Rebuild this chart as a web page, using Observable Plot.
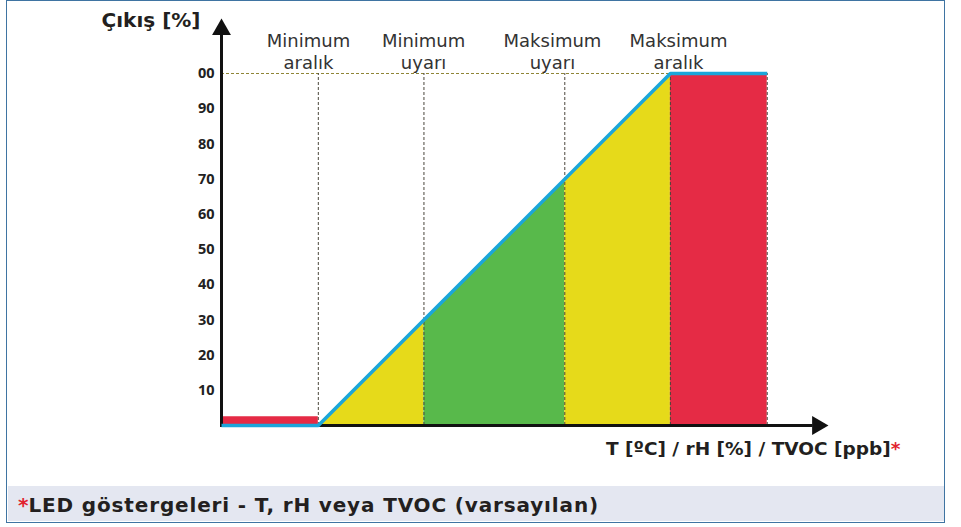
<!DOCTYPE html>
<html>
<head>
<meta charset="utf-8">
<script src="https://cdn.jsdelivr.net/npm/d3@7"></script>
<script src="https://cdn.jsdelivr.net/npm/@observablehq/plot@0.6"></script>
<style>
  html, body { margin: 0; padding: 0; background: #fff; width: 961px; height: 527px; overflow: hidden; }
  #chart { position: absolute; left: 0; top: 0; }
  #frame { position: absolute; left: 6px; top: 0px; width: 937px; height: 521px; border: 1.5px solid #3f74a2; pointer-events: none; }
  #footer { position: absolute; left: 7.5px; top: 486px; width: 937px; height: 35px; background: #e4e7f1;
            font-family: "DejaVu Sans", sans-serif; font-weight: bold; font-size: 20px; letter-spacing: 0.85px; color: #231f20; }
  #footer span.txt { position: absolute; left: 10.5px; top: 6.5px; white-space: nowrap; }
  #footer span.star { color: #e1232f; letter-spacing: 0; }
  g[aria-label="y-title"] text { letter-spacing: 1.2px; }
  g[aria-label="x-title"] text { letter-spacing: 0.95px; }
</style>
</head>
<body>
<div id="chart"></div>
<div id="footer"><span class="txt"><span class="star">*</span><span id="foottext"></span></span></div>
<div id="frame"></div>
<script>
// ---- data ----
const yTicks = [10, 20, 30, 40, 50, 60, 70, 80, 90, 100];
const yTickText = ["10", "20", "30", "40", "50", "60", "70", "80", "90", "00"];
const zoneStart    = [0, 27.5, 57.5, 97.5, 127.5];
const zoneEnd      = [27.5, 57.5, 97.5, 127.5, 155];
const zoneTopStart = [2.5, 0, 30, 70, 100];
const zoneTopEnd   = [2.5, 30, 70, 100, 100];
const zoneFill     = ["#e52b45", "#e6da1a", "#58b94b", "#e6da1a", "#e52b45"];
const boundaryX = [27.5, 57.5, 97.5, 127.5, 155];
const outputX = [0, 27.5, 127.5, 155];
const outputY = [0, 0, 100, 100];
const zoneLabels = ["Minimum\naralık", "Minimum\nuyarı", "Maksimum\nuyarı", "Maksimum\naralık"];
const zoneLabelX = [24.7, 57.4, 94.0, 129.8];
const yTitle = "Çıkış [%]";
const xTitle = "T [ºC] / rH [%] / TVOC [ppb]";
const footnote = "LED göstergeleri - T, rH veya TVOC (varsayılan)";
const xDomain = [0, 172.4];
const yDomain = [0, 100];

// ---- build ----
const areas = zoneStart.map((x0, i) =>
  Plot.areaY(
    [{x: x0, y: zoneTopStart[i]}, {x: zoneEnd[i], y: zoneTopEnd[i]}],
    {x: "x", y: "y", fill: zoneFill[i]}
  )
);
const outputLine = outputX.map((x, i) => ({x, y: outputY[i]}));

const chart = Plot.plot({
  width: 961,
  height: 486,
  marginLeft: 221, marginRight: 133, marginTop: 73, marginBottom: 61,
  x: {domain: xDomain, range: [221, 828], axis: null},
  y: {domain: yDomain, range: [425, 73]},
  style: {fontFamily: "DejaVu Sans", background: "transparent", overflow: "visible"},
  marks: [
    ...areas,
    Plot.ruleY([100], {x1: 0, x2: 127.5, stroke: "#8f8536", strokeDasharray: "3,2", strokeWidth: 1}),
    Plot.ruleX(boundaryX, {y1: 0, y2: 100, stroke: "#4a463c", strokeDasharray: "3,2", strokeWidth: 1}),
    Plot.ruleX([0], {y1: -0.6, y2: 111.5, stroke: "#111", strokeWidth: 3}),
    Plot.ruleY([0], {x1: 0, x2: 168, stroke: "#111", strokeWidth: 3}),
    Plot.dot([0], {x: 0, y: 112.5, symbol: "triangle", r: 7, fill: "#111"}),
    Plot.dot([0], {x: 169.3, y: 0, symbol: "triangle", r: 7, rotate: 90, fill: "#111"}),
    Plot.line(outputLine, {x: "x", y: "y", stroke: "#1ba6da", strokeWidth: 3.5, strokeLinejoin: "miter", strokeLinecap: "butt"}),
    Plot.axisY(yTicks, {
      tickFormat: d => yTickText[yTicks.indexOf(d)],
      tickSize: 0, tickPadding: 7, label: null,
      fontSize: 14.5, fontWeight: "bold", fontFamily: "Open Sans", fill: "#222"
    }),
    Plot.text(zoneLabels, {
      x: (d, i) => zoneLabelX[i], y: 101.42, text: d => d,
      lineAnchor: "bottom", lineHeight: 1.22, fontSize: 18, fill: "#333"
    }),
    Plot.text([yTitle], {
      x: -5.97, y: 113.07, text: d => d, textAnchor: "end", lineAnchor: "bottom",
      fontSize: 20, fontWeight: "bold", fill: "#231f20", ariaLabel: "y-title"
    }),
    Plot.text([xTitle], {
      x: 190.06, y: -8.52, text: d => d, textAnchor: "end", lineAnchor: "bottom",
      fontSize: 18.5, fontWeight: "bold", fill: "#231f20", ariaLabel: "x-title"
    }),
    Plot.text(["*"], {
      x: 190.06, y: -8.52, text: d => d, textAnchor: "start", lineAnchor: "bottom",
      fontSize: 18.5, fontWeight: "bold", fill: "#e1232f"
    })
  ]
});
document.getElementById("chart").appendChild(chart);
document.getElementById("foottext").textContent = footnote;
</script>
</body>
</html>
